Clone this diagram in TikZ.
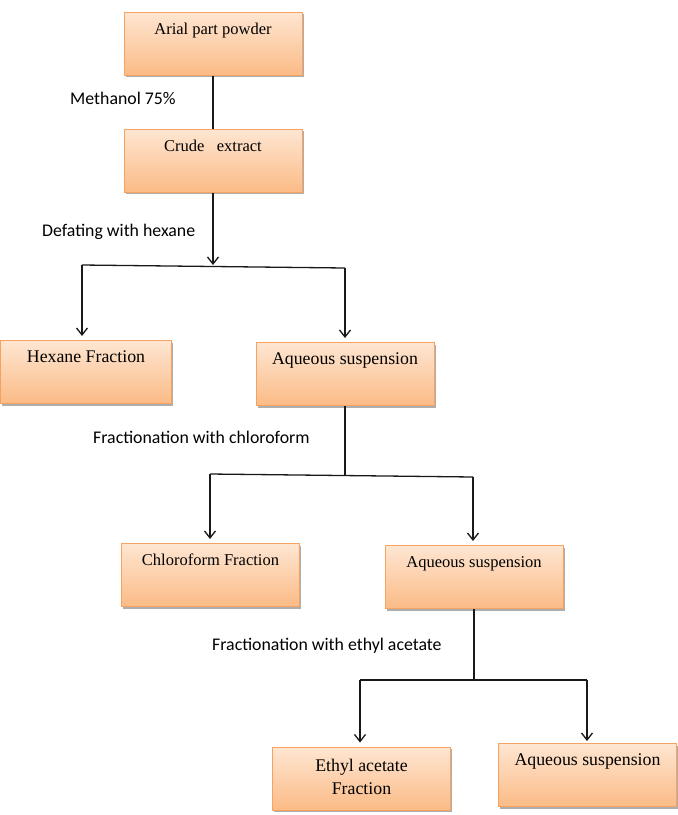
\documentclass[tikz,border=0pt]{standalone}
\usepackage{fontspec}
\setmainfont{Liberation Serif}
\newfontfamily\notefont{Carlito}
\usepackage{xcolor}
\usepackage{tikz}
\usetikzlibrary{positioning, arrows.meta, shadows}

\definecolor{boxtop}{HTML}{FEE6D2}
\definecolor{boxbottom}{HTML}{FBBB86}
\definecolor{boxedge}{HTML}{F6A260}

\begin{document}
\begin{tikzpicture}[
    x=1pt, y=-1pt,
    stagebox/.style={
        rectangle,
        draw=boxedge,
        line width=1pt,
        top color=boxtop,
        bottom color=boxbottom,
        drop shadow={shadow xshift=1.5pt, shadow yshift=-2pt, fill=black!45, opacity=0.7},
        minimum width=178pt,
        inner ysep=6pt,
        text height=16pt,
        text depth=35pt,
        font=\fontsize{16.5}{20}\selectfont
    },
    bigtext/.style={
        font=\fontsize{17.8}{23.5}\selectfont
    },
    steplabel/.style={
        anchor=base west,
        inner sep=0pt,
        font=\notefont\fontsize{17.8}{21}\selectfont
    },
    flowline/.style={line width=1.3pt, black!90},
    flowarrow/.style={flowline, -{Straight Barb[length=7pt, width=11pt]}}
]
    \useasboundingbox (0,0) rectangle (678,815);

    % Row 1: Powder + Extract
    \node[stagebox] (powder) at (213,43.5) {Arial part powder};
    \node[stagebox, below=53pt of powder] (crude) {Crude\ \ \ extract};

    % Row 2: Hexane split
    \node[stagebox, bigtext, minimum width=171pt] (hexane) at (86,372) {Hexane Fraction};
    \node[stagebox, bigtext] (aqueousA) at (345,374) {Aqueous suspension};

    % Row 3: Chloroform split
    \node[stagebox] (chloroform) at (210.5,575) {Chloroform Fraction};
    \node[stagebox] (aqueousB) at (474,577) {Aqueous suspension};

    % Row 4: Ethyl acetate split
    \node[stagebox, bigtext, align=center, text height=41.5pt, text depth=9.5pt] (ethyl) at (361.5,778.5) {Ethyl acetate\\Fraction};
    \node[stagebox, bigtext] (aqueousC) at (587.5,775) {Aqueous suspension};

    % Step labels
    \node[steplabel] (methanol) at (70,104) {Methanol 75\%};
    \node[steplabel] (defat) at (42,236) {Defating with hexane};
    \node[steplabel] (chloroLabel) at (93,443) {Fractionation with chloroform};
    \node[steplabel] (ethylLabel) at (212,650) {Fractionation with ethyl acetate};

    % Split points
    \coordinate (splitA) at (213,265);
    \coordinate (splitAleft) at (82,265);
    \coordinate (splitAright) at (345,268);
    \coordinate (splitB) at (345,476);
    \coordinate (splitBleft) at (210,474);
    \coordinate (splitBright) at (473,477);
    \coordinate (splitC) at (474,680);
    \coordinate (splitCleft) at (360,680);
    \coordinate (splitCright) at (587,680);

    % Arrows
    \draw[flowline] (powder) -- (crude);
    \draw[flowarrow] (crude) -- (splitA);
    \draw[flowline] (splitAleft) -- (splitAright);
    \draw[flowarrow, shorten >=4pt] (splitAleft) -- (splitAleft |- hexane.north);
    \draw[flowarrow, shorten >=4pt] (splitAright) -- (aqueousA);

    \draw[flowline] (aqueousA) -- (splitB);
    \draw[flowline] (splitBleft) -- (splitBright);
    \draw[flowarrow, shorten >=4pt] (splitBleft) -- (splitBleft |- chloroform.north);
    \draw[flowarrow, shorten >=4pt] (splitBright) -- (splitBright |- aqueousB.north);

    \draw[flowline] (aqueousB) -- (splitC);
    \draw[flowline] (splitCleft) -- (splitCright);
    \draw[flowarrow, shorten >=4pt] (splitCleft) -- (splitCleft |- ethyl.north);
    \draw[flowarrow, shorten >=2pt] (splitCright) -- (splitCright |- aqueousC.north);
\end{tikzpicture}
\end{document}
